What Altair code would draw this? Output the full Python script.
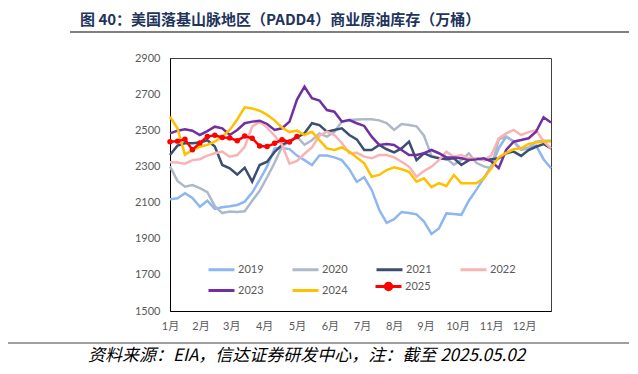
import json
import altair as alt
import pandas as pd

# ---------------- data ----------------
weeks = list(range(52))
years_main = ["2019", "2020", "2021", "2022", "2023", "2024"]
colors_main = ["#8DB6F2", "#ADB9CA", "#3B4F72", "#F8B4B4", "#7030A0", "#FFC000"]

v2019 = [2118, 2124, 2152, 2126, 2077, 2110, 2065, 2074, 2080, 2087,
         2105, 2155, 2225, 2300, 2400, 2402, 2396, 2360, 2335, 2308,
         2360, 2360, 2350, 2335, 2285, 2215, 2240, 2170, 2060, 1988,
         2008, 2048, 2042, 2035, 1995, 1926, 1957, 2040, 2037, 2032,
         2110, 2170, 2235, 2300, 2400, 2465, 2437, 2392, 2400, 2415,
         2340, 2290]
v2020 = [2300, 2220, 2188, 2197, 2180, 2158, 2080, 2042, 2050, 2048,
         2052, 2110, 2165, 2240, 2320, 2410, 2440, 2465, 2420, 2445,
         2483, 2465, 2490, 2548, 2557, 2560, 2561, 2561, 2555, 2540,
         2502, 2535, 2529, 2522, 2470, 2360, 2345, 2345, 2310, 2335,
         2373, 2320, 2300, 2290, 2450, 2465, 2440, 2395, 2405, 2437,
         2442, 2442]
v2021 = [2363, 2415, 2428, 2428, 2432, 2445, 2410, 2308, 2290, 2255,
         2293, 2216, 2308, 2326, 2380, 2420, 2440, 2460, 2483, 2539,
         2529, 2492, 2502, 2511, 2474, 2450, 2391, 2391, 2419, 2395,
         2378, 2400, 2437, 2335, 2373, 2354, 2345, 2340, 2345, 2308,
         2335, 2345, 2335, 2340, 2345, 2373, 2382, 2358, 2391, 2409,
         2424, 2400]
v2022 = [2323, 2322, 2315, 2335, 2340, 2360, 2373, 2382, 2354, 2363,
         2409, 2520, 2548, 2515, 2470, 2419, 2315, 2330, 2370, 2405,
         2470, 2492, 2474, 2430, 2373, 2375, 2354, 2345, 2363, 2363,
         2350, 2326, 2299, 2243, 2275, 2299, 2335, 2382, 2354, 2363,
         2345, 2345, 2335, 2360, 2456, 2483, 2502, 2474, 2490, 2500,
         2440, 2400]
v2023 = [2483, 2498, 2505, 2498, 2474, 2495, 2520, 2511, 2474, 2502,
         2539, 2548, 2553, 2535, 2502, 2511, 2548, 2670, 2741, 2677,
         2665, 2612, 2603, 2548, 2557, 2539, 2524, 2465, 2419, 2424,
         2419, 2391, 2363, 2363, 2373, 2391, 2373, 2350, 2350, 2345,
         2335, 2339, 2345, 2328, 2290, 2391, 2437, 2446, 2456, 2492,
         2572, 2543]
v2024 = [2575, 2511, 2365, 2391, 2409, 2419, 2437, 2465, 2502, 2560,
         2627, 2621, 2608, 2585, 2555, 2515, 2490, 2498, 2474, 2492,
         2446, 2400, 2391, 2405, 2382, 2350, 2317, 2243, 2253, 2280,
         2295, 2284, 2270, 2215, 2234, 2185, 2207, 2192, 2253, 2207,
         2207, 2207, 2234, 2290, 2350, 2375, 2395, 2400, 2425, 2432,
         2437, 2440]
v2025 = [2437, 2440, 2450, 2392, 2430, 2465, 2472, 2460, 2458, 2442,
         2468, 2456, 2413, 2410, 2428, 2448, 2435, 2465]

month_ticks = [0, 4.08, 8.2, 12.6, 17.0, 21.4, 25.7, 30.0, 34.2, 38.5, 43.0, 47.4]
month_labels = ["1月", "2月", "3月", "4月", "5月", "6月", "7月", "8月",
                "9月", "10月", "11月", "12月"]
y_ticks = [1500, 1700, 1900, 2100, 2300, 2500, 2700, 2900]

title_text = "图 40：美国落基山脉地区（PADD4）商业原油库存（万桶）"
source_text = "资料来源：EIA，信达证券研发中心，注：截至 2025.05.02"

# ---------------- tables ----------------
series_main = [v2019, v2020, v2021, v2022, v2023, v2024]
rows = []
for yr, vals in zip(years_main, series_main):
    for w, v in zip(weeks, vals):
        rows.append({"week": w, "value": v, "year": yr})
df_main = pd.DataFrame(rows)
df25 = pd.DataFrame({"week": weeks[:len(v2025)], "value": v2025, "year": "2025"})

label_font = 'Lato, "Noto Sans CJK SC"'
label_expr = (json.dumps(month_labels, ensure_ascii=False)
              + "[indexof(" + json.dumps(month_ticks) + ", datum.value)]")

x_enc = alt.X("week:Q",
              scale=alt.Scale(domain=[0, 51], nice=False, zero=False),
              axis=alt.Axis(values=month_ticks, labelExpr=label_expr, title=None,
                            ticks=False, grid=False, domainColor="#000000",
                            labelPadding=9, labelFontSize=11, labelColor="#595959",
                            labelFont=label_font, labelFlush=False, labelOverlap=False))
y_enc = alt.Y("value:Q",
              scale=alt.Scale(domain=[1500, 2900], nice=False, zero=False),
              axis=alt.Axis(values=y_ticks, title=None, ticks=False, grid=False,
                            format="d",
                            domainColor="#000000", labelPadding=10, labelFontSize=11,
                            labelColor="#595959", labelFont=label_font))

main = alt.Chart(df_main).mark_line(strokeWidth=2.5).encode(
    x=x_enc, y=y_enc,
    color=alt.Color("year:N",
                    scale=alt.Scale(domain=years_main, range=colors_main),
                    legend=alt.Legend(orient="none", legendX=37, legendY=197,
                                      direction="horizontal",
                                      title=None, columns=4, columnPadding=22,
                                      rowPadding=-10, symbolType="stroke",
                                      symbolSize=676, symbolStrokeWidth=3,
                                      labelFontSize=11, labelColor="#595959",
                                      labelFont=label_font, labelOffset=2,
                                      padding=0)),
    detail="year:N",
)

dot_path = "M-1,0H1M-0.25,0A0.25,0.25,0,1,1,0.25,0A0.25,0.25,0,1,1,-0.25,0Z"
red = alt.Chart(df25).mark_line(
    strokeWidth=2.5, point=alt.OverlayMarkDef(filled=True, size=30)
).encode(
    x=x_enc, y=y_enc,
    color=alt.Color("year:N",
                    scale=alt.Scale(domain=["2025"], range=["#FF0000"]),
                    legend=alt.Legend(orient="none", legendX=204, legendY=214,
                                      title=None, symbolType=dot_path,
                                      symbolSize=676, symbolStrokeWidth=3,
                                      symbolFillColor="#FF0000",
                                      labelFontSize=11, labelColor="#595959",
                                      labelFont=label_font, labelOffset=2,
                                      padding=0)),
)

one = pd.DataFrame({"a": [0]})
top_rule = alt.Chart(one).mark_rule(color="#7F7F7F", strokeWidth=2).encode(
    x=alt.value(-100), x2=alt.value(470), y=alt.value(-26))
bottom_rule = alt.Chart(one).mark_rule(color="#7F7F7F", strokeWidth=1.5).encode(
    x=alt.value(-170), x2=alt.value(470), y=alt.value(285))

title = alt.Chart(pd.DataFrame({"t": [title_text]})).mark_text(
    align="left", baseline="middle", fontSize=15, fontWeight="bold",
    color="#22345A", font="Noto Sans CJK SC"
).encode(x=alt.value(-90), y=alt.value(-38.5), text="t:N")

source = alt.Chart(pd.DataFrame({"t": [source_text]})).mark_text(
    align="left", baseline="middle", fontSize=17, fontStyle="italic",
    color="#000000", font="Noto Sans CJK SC"
).encode(x=alt.value(-82), y=alt.value(298), text="t:N")

chart = alt.layer(main, red, top_rule, bottom_rule, title, source).resolve_scale(
    color="independent"
).properties(
    width=381, height=253,
    padding={"left": 162, "top": 50, "right": 78, "bottom": 54},
    autosize=alt.AutoSizeParams(type="none"),
).configure_view(stroke="#404040", strokeWidth=1)

chart.save("out.html", embed_options={"renderer": "svg", "actions": False})
